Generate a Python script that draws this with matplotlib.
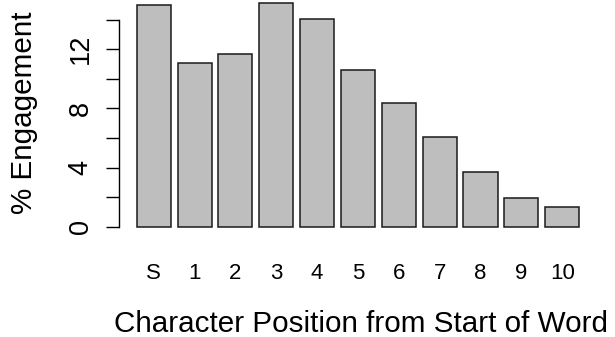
import matplotlib
matplotlib.use("Agg")
import matplotlib.pyplot as plt
import numpy as np

# engagement by character position
positions = ["S", "1", "2", "3", "4", "5", "6", "7", "8", "9", "10"]
engagement = [14.97, 11.09, 11.66, 15.15, 14.04, 10.60, 8.34, 6.09, 3.68, 1.94, 1.31]
yticks = [0, 2, 4, 6, 8, 10, 12, 14]
ytick_labels = ["0", "", "4", "", "8", "", "12", ""]

plt.rcParams["font.family"] = ["Liberation Sans", "DejaVu Sans"]

W, H = 615, 337
fig = plt.figure(figsize=(W / 100, H / 100), dpi=100)

# plot region in pixels (left, top, right, bottom)
l, t, r, b = 118.7, -6.4, 604.0, 235.7
ax = fig.add_axes([l / W, 1 - b / H, (r - l) / W, (b - t) / H])

# barplot-style layout: width 1, space 0.2
x = 0.7 + 1.2 * np.arange(len(engagement))
ax.bar(x, engagement, width=1.0, color="#bebebe", edgecolor="#1a1a1a", linewidth=1.1)

xmin, xmax = 0.2, 1.2 * len(engagement) + 0.2
pad = 0.04 * (xmax - xmin)
ax.set_xlim(xmin - pad, xmax + pad)
ymax = max(engagement)
ax.set_ylim(-0.04 * ymax, 1.04 * ymax)

for s in ["top", "right", "bottom"]:
    ax.spines[s].set_visible(False)
ax.spines["left"].set_bounds(0, 14)
ax.spines["left"].set_linewidth(1.0)

ax.set_yticks(yticks)
ax.set_yticklabels(ytick_labels, rotation=90, va="center", fontsize=19.5)
ax.tick_params(axis="y", length=9.4, width=1.0, pad=8.5)

ax.set_xticks(x)
ax.set_xticklabels(positions, fontsize=16)
ax.tick_params(axis="x", length=0, pad=20)

fig.text(24 / W, 1 - 113 / H, "% Engagement", rotation=90, ha="center", va="center", fontsize=21.3)
fig.text((l + r) / 2 / W, 4.7 / H, "Character Position from Start of Word",
         ha="center", va="baseline", fontsize=21.3)

fig.savefig("out.png", dpi=100)
